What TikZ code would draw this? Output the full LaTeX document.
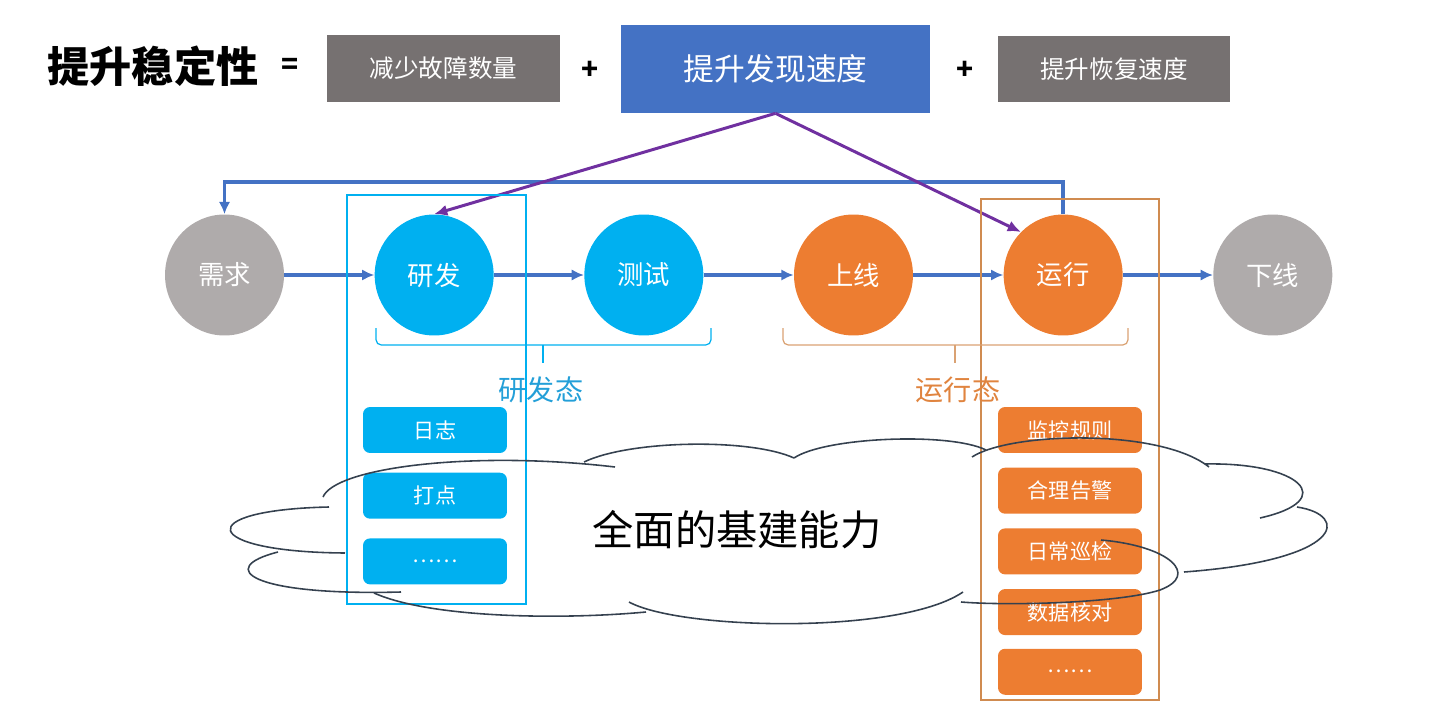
\documentclass[tikz,border=0pt]{standalone}
\usepackage{fontspec}
\setmainfont{Noto Sans CJK SC}
\usetikzlibrary{
    arrows.meta,      % For arrow tips
    shapes.geometric, % For the ellipse stages
    positioning       % For relative placement
}

\definecolor{boxgray}{HTML}{767171}
\definecolor{findblue}{HTML}{4472C4}
\definecolor{stagegray}{HTML}{AFABAB}
\definecolor{devblue}{HTML}{00B0F0}
\definecolor{runorange}{HTML}{ED7D31}
\definecolor{hintpurple}{HTML}{7030A0}
\definecolor{devtxt}{HTML}{239FD8}
\definecolor{runtxt}{HTML}{E0843F}
\definecolor{runframe}{HTML}{D08B50}
\definecolor{cloudgray}{HTML}{35414F}

\begin{document}
\begin{tikzpicture}[
    x=0.02cm, y=-0.02cm, % one unit = one pixel of the sketch
    >=Latex,
    topbox/.style={fill=boxgray, text=white, minimum width=4.66cm, minimum height=1.34cm,
        font=\fontsize{14}{16}\selectfont},
    findbox/.style={fill=findblue, text=white, minimum width=6.2cm, minimum height=1.76cm,
        font=\fontsize{17.5}{20}\selectfont},
    op/.style={font=\fontsize{16}{18}\selectfont\bfseries},
    stage/.style={ellipse, inner sep=0pt, minimum width=2.38cm, minimum height=2.42cm,
        text=white, font=\fontsize{15}{17}\selectfont},
    flow/.style={-{Latex[length=7pt,width=6.5pt]}, line width=1.9pt, findblue},
    hint/.style={-{Latex[length=7.5pt,width=6.5pt]}, line width=1.7pt, hintpurple},
    item/.style={rounded corners=4pt, minimum width=2.88cm, minimum height=0.92cm,
        text=white, font=\fontsize{12}{14}\selectfont},
    brk/.style={line width=0.7pt, rounded corners=3pt},
    cloudline/.style={line width=0.9pt, cloudgray}
]
    \useasboundingbox (0,0) rectangle (1434,703);

    % Top formula
    \node[font=\fontsize{24}{28}\selectfont\bfseries] (goal) at (153,66) {提升稳定性};
    \node[op] (eq) at (290,66) {=};
    \node[topbox] (fewer) at (443.5,68.5) {减少故障数量};
    \node[op] (plus1) at (590,70) {+};
    \node[findbox] (find) at (775.5,69) {提升发现速度};
    \node[op] (plus2) at (965,70) {+};
    \node[topbox] (recover) at (1114,69) {提升恢复速度};

    % Life cycle stages
    \node[stage, fill=stagegray] (need) at (224.5,275) {需求};
    \node[stage, fill=devblue, right=1.8cm of need] (dev) {研发};
    \node[stage, fill=devblue, right=1.8cm of dev] (test) {测试};
    \node[stage, fill=runorange, right=1.8cm of test] (online) {上线};
    \node[stage, fill=runorange, right=1.8cm of online] (run) {运行};
    \node[stage, fill=stagegray, right=1.8cm of run] (offline) {下线};

    \draw[flow] (need) -- (dev);
    \draw[flow] (dev) -- (test);
    \draw[flow] (test) -- (online);
    \draw[flow] (online) -- (run);
    \draw[flow] (run) -- (offline);

    % Feedback loop back to 需求
    \coordinate (loop) at (224.5,182);
    \draw[flow] (run.north) |- (loop) -- (need.north);

    % Discovery speed points at both states
    \draw[hint] (find.south) -- (dev.north);
    \draw[hint] (find.south) -- (run.north west);

    % Frames
    \draw[devblue, line width=0.8pt] (347,195) rectangle (526,604);
    \draw[runframe, line width=0.8pt] (981,199) rectangle (1159,700);

    % Braces and state labels
    \draw[brk, devblue] (376,328) -- (376,345) -- (711,345) -- (711,328);
    \draw[brk, devblue] (543,345) -- (543,363);
    \node[devtxt, font=\fontsize{16}{18}\selectfont] (devstate) at (541,390) {研发态};
    \draw[brk, runframe!80] (783,328) -- (783,345) -- (1128,345) -- (1128,328);
    \draw[brk, runframe!80] (955,345) -- (955,363);
    \node[runtxt, font=\fontsize{16}{18}\selectfont] (runstate) at (958,390) {运行态};

    % Items under 研发
    \node[item, fill=devblue] (log) at (435,430) {日志};
    \node[item, fill=devblue, below=0.38cm of log] (mark) {打点};
    \node[item, fill=devblue, below=0.38cm of mark] (devmore) {……};

    % Items under 运行
    \node[item, fill=runorange] (rule) at (1070,430) {监控规则};
    \node[item, fill=runorange, below=0.28cm of rule] (alert) {合理告警};
    \node[item, fill=runorange, below=0.28cm of alert] (patrol) {日常巡检};
    \node[item, fill=runorange, below=0.28cm of patrol] (check) {数据核对};
    \node[item, fill=runorange, below=0.26cm of check] (runmore) {……};

    % Cloud
    \draw[cloudline] (323,497) .. controls (335,468) and (470,450) .. (615,467);
    \draw[cloudline] (584,462) .. controls (630,440) and (750,438) .. (794,458);
    \draw[cloudline] (794,458) .. controls (825,437) and (950,432) .. (986,450);
    \draw[cloudline] (972,457) .. controls (1010,432) and (1160,428) .. (1209,467);
    \draw[cloudline] (1205,464) .. controls (1300,462) and (1340,500) .. (1260,518);
    \draw[cloudline] (1297,507) .. controls (1350,515) and (1345,560) .. (1184,572);
    \draw[cloudline] (1101,540) .. controls (1170,546) and (1200,575) .. (1160,590)
        .. controls (1120,603) and (1010,606) .. (961,602);
    \draw[cloudline] (629,602) .. controls (680,630) and (900,635) .. (963,592);
    \draw[cloudline] (374,593) .. controls (430,618) and (560,620) .. (646,612);
    \draw[cloudline] (401,592) .. controls (250,596) and (215,568) .. (278,552);
    \draw[cloudline] (345,553) .. controls (200,552) and (190,510) .. (329,507);
    \node[font=\fontsize{23.5}{26}\selectfont] (base) at (737,530) {全面的基建能力};

\end{tikzpicture}
\end{document}
